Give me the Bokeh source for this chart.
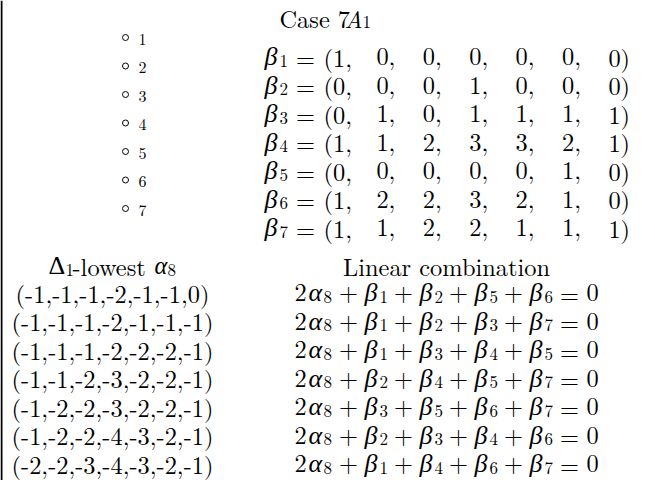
from bokeh.plotting import figure
from bokeh.models import Range1d
from bokeh.core.properties import value
from bokeh.embed import file_html
from bokeh.resources import INLINE

# ---------------- data ----------------
title_word = "Case 7"
title_var = "A"
title_sub = "1"

node_labels = ["1", "2", "3", "4", "5", "6", "7"]
beta_indices = ["1", "2", "3", "4", "5", "6", "7"]
beta_vectors = [
    [1, 0, 0, 0, 0, 0, 0],
    [0, 0, 0, 1, 0, 0, 0],
    [0, 1, 0, 1, 1, 1, 1],
    [1, 1, 2, 3, 3, 2, 1],
    [0, 0, 0, 0, 0, 1, 0],
    [1, 2, 2, 3, 2, 1, 0],
    [1, 1, 2, 2, 1, 1, 1],
]

lowest_header = ["Δ", "1", "-lowest", "α", "8"]
lowest_roots = [
    "(-1,-1,-1,-2,-1,-1,0)",
    "(-1,-1,-1,-2,-1,-1,-1)",
    "(-1,-1,-1,-2,-2,-2,-1)",
    "(-1,-1,-2,-3,-2,-2,-1)",
    "(-1,-2,-2,-3,-2,-2,-1)",
    "(-1,-2,-2,-4,-3,-2,-1)",
    "(-2,-2,-3,-4,-3,-2,-1)",
]
combo_header = "Linear combination"
alpha_coeff = "2"
alpha_index = "8"
combos = [
    [1, 2, 5, 6],
    [1, 2, 3, 7],
    [1, 3, 4, 5],
    [2, 4, 5, 7],
    [3, 5, 6, 7],
    [2, 3, 4, 6],
    [1, 4, 6, 7],
]

# ---------------- layout ----------------
FONT = "Latin Modern Roman"
GREEK = "Liberation Serif"
FS = "24.4px"
GFS = "26px"
SUB = "17px"
SUP = "16px"
ROW = 28.5
SUB_DROP = 4

p = figure(width=639, height=480, x_range=Range1d(8, 647), y_range=Range1d(488, 8),
           output_backend="svg", toolbar_location=None,
           x_axis_type=None, y_axis_type=None, min_border=0)
p.outline_line_color = None


def txt(xs, ys, texts, size=FS, italic=False, align="left", font=FONT):
    kw = dict(x=xs, y=ys, text=texts, text_font=value(font), text_font_size=value(size),
              text_align=align, text_baseline="alphabetic")
    if italic:
        kw["text_font_style"] = "italic"
    p.text(**kw)


# left rule
p.segment(x0=[9], y0=[8], x1=[9], y1=[488], line_width=2, line_color="black")

# title
tb = 25
txt([287], [tb], [title_word])
txt([352], [tb], [title_var], italic=True)
txt([370], [tb + SUB_DROP], [title_sub], size=SUB)

# node markers
n = len(node_labels)
dot_y = [45 + ROW * i for i in range(n)]
p.scatter(x=[133] * n, y=dot_y, size=6, marker="circle", fill_color=None,
          line_color="black", line_width=1)
txt([146] * n, [y + 1.5 for y in dot_y], node_labels, size=SUP)

# beta rows
rb = [64 + ROW * i for i in range(len(beta_vectors))]
txt([272] * len(rb), rb, ["β"] * len(rb), size=GFS, italic=True, font=GREEK)
txt([287] * len(rb), [y + SUB_DROP for y in rb], beta_indices, size=SUB)
txt([313] * len(rb), rb, ["="] * len(rb), align="center")
cx, cy, ct = [], [], []
for i, vec in enumerate(beta_vectors):
    for j, v in enumerate(vec):
        if j == 0:
            cx.append(331)
            ct.append(f"({v},")
        else:
            cx.append(390 + 46.4 * (j - 1) - 6.1)
            ct.append(f"{v}," if j < len(vec) - 1 else f"{v})")
        cy.append(rb[i])
txt(cx, cy, ct)

# lower headers
hb = 273
txt([56], [hb], [lowest_header[0]], size=GFS, font=GREEK)
txt([73], [hb + SUB_DROP], [lowest_header[1]], size=SUB)
txt([80], [hb], [lowest_header[2]])
txt([162], [hb], [lowest_header[3]], italic=True, font=GREEK)
txt([175], [hb + SUB_DROP], [lowest_header[4]], size=SUB)
txt([454], [hb], [combo_header], align="center")

# lowest roots
lb = [300 + ROW * i for i in range(len(lowest_roots))]
txt([120] * len(lb), lb, lowest_roots, align="center")

# linear combinations
m = len(combos)
txt([302] * m, lb, [alpha_coeff] * m)
txt([316] * m, lb, ["α"] * m, size=GFS, italic=True, font=GREEK)
txt([331] * m, [y + SUB_DROP for y in lb], [alpha_index] * m, size=SUB)
px, py, bx, by, sx, sy, st = [], [], [], [], [], [], []
STEP = 55
for i, combo in enumerate(combos):
    for k, idx in enumerate(combo):
        px.append(356 + STEP * k); py.append(lb[i])
        bx.append(372 + STEP * k); by.append(lb[i])
        sx.append(387 + STEP * k); sy.append(lb[i] + SUB_DROP); st.append(str(idx))
txt(px, py, ["+"] * len(px), align="center")
txt(bx, by, ["β"] * len(bx), size=GFS, italic=True, font=GREEK)
txt(sx, sy, st, size=SUB)
txt([577] * m, lb, ["="] * m, align="center")
txt([594] * m, lb, ["0"] * m)

open("out.html", "w").write(file_html(p, INLINE))
